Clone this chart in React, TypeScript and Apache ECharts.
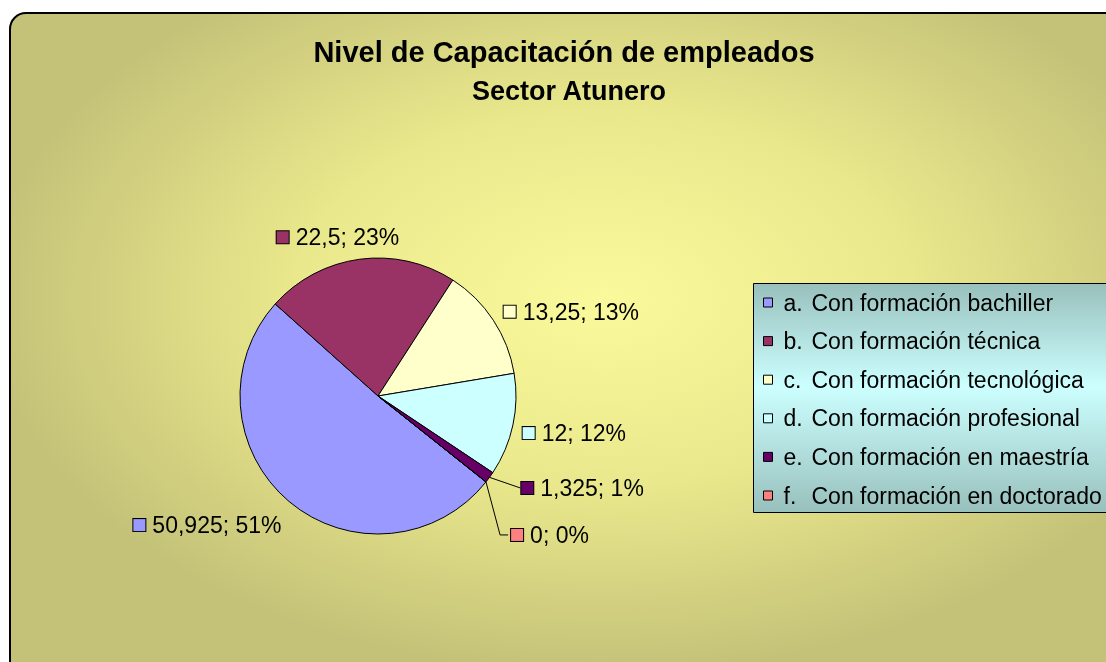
import React, { useEffect, useRef } from "react";
import * as echarts from "echarts";

const categories = [
  "a. Con formación bachiller",
  "b. Con formación técnica",
  "c. Con formación tecnológica",
  "d. Con formación profesional",
  "e. Con formación en maestría",
  "f. Con formación en doctorado",
];
const values = [50.925, 22.5, 13.25, 12, 1.325, 0];
const colors = ["#9999FF", "#993366", "#FFFFCC", "#CCFFFF", "#660066", "#FF8080"];
const titleText = "Nivel de Capacitación de empleados";
const subtitleText = "Sector Atunero";

const FONT = "'Liberation Sans', Arial, sans-serif";

export default function App() {
  const ref = useRef<HTMLDivElement>(null);
  useEffect(() => {
    if (!ref.current) return;
    const chart = echarts.init(ref.current, undefined, { renderer: "svg" });
    const total = values.reduce((a, b) => a + b, 0);
    const rich: any = {
      t: { fontSize: 23, fontFamily: FONT, color: "#000", padding: [0, 0, 0, 7] },
    };
    colors.forEach((c, i) => {
      rich["m" + i] = {
        width: 12,
        height: 12,
        backgroundColor: c,
        borderColor: "#000",
        borderWidth: 1,
      };
    });
    const data = categories.map((name, i) => {
      const item: any = { name, value: values[i], itemStyle: { color: colors[i] } };
      if (i === 4) {
        item.labelLine = { show: true, length: 18, length2: 0 };
        item.label = { lineHeight: 50, distanceToLabelLine: 1 };
      } else if (i === 5) {
        item.labelLine = { show: true, length: 18, length2: 8 };
        item.label = { lineHeight: 40, distanceToLabelLine: 3 };
      } else {
        item.labelLine = { show: false, length: 10, length2: 0 };
      }
      return item;
    });
    const option: any = {
      animation: false,
      graphic: [
        {
          type: "rect",
          shape: { x: 10, y: 13, width: 1120, height: 680, r: 16 },
          style: {
            fill: new echarts.graphic.RadialGradient(0.53, 0.42, 0.55, [
              { offset: 0, color: "#FAFA9C" },
              { offset: 0.5, color: "#EAE88C" },
              { offset: 1, color: "#C4C278" },
            ]),
            stroke: "#000",
            lineWidth: 2,
          },
          z: -10,
        },
        {
          type: "rect",
          shape: { x: 753.5, y: 283.5, width: 400, height: 229 },
          style: {
            fill: new echarts.graphic.LinearGradient(0, 0, 0, 1, [
              { offset: 0, color: "#98C0BC" },
              { offset: 0.45, color: "#CCFFFF" },
              { offset: 1, color: "#98C0BC" },
            ]),
            stroke: "#000",
            lineWidth: 1,
          },
          z: -5,
        },
      ],
      title: [
        {
          text: titleText,
          left: 559,
          top: 32,
          textAlign: "center",
          textStyle: { fontSize: 29, fontWeight: "bold", color: "#000", fontFamily: FONT },
        },
        {
          text: subtitleText,
          left: 564,
          top: 72,
          textAlign: "center",
          textStyle: { fontSize: 27, fontWeight: "bold", color: "#000", fontFamily: FONT },
        },
      ],
      legend: {
        orient: "vertical",
        left: 758,
        top: 286,
        icon: "rect",
        itemWidth: 9,
        itemHeight: 9,
        itemGap: 15.6,
        itemStyle: { borderColor: "#000", borderWidth: 1 },
        data: categories,
        formatter: (name: string) => {
          const idx = name.indexOf(" ");
          return `{p|${name.slice(0, idx)}}{t|${name.slice(idx + 1)}}`;
        },
        textStyle: {
          fontSize: 23,
          fontFamily: FONT,
          color: "#000",
          rich: {
            p: { fontSize: 23, fontFamily: FONT, color: "#000", width: 28, lineHeight: 30, padding: [0, 0, 0, 6] },
            t: { fontSize: 23, fontFamily: FONT, color: "#000", lineHeight: 30 },
          },
        },
      },
      series: [
        {
          type: "pie",
          center: [378, 396],
          radius: 138,
          startAngle: -38.5,
          clockwise: true,
          minAngle: 0,
          avoidLabelOverlap: true,
          itemStyle: { borderColor: "#000", borderWidth: 1 },
          emphasis: { disabled: true },
          label: {
            show: true,
            position: "outside",
            formatter: (p: any) => {
              const pct = Math.round((p.value / total) * 100);
              const v = String(p.value).replace(".", ",");
              return `{m${p.dataIndex}|}{t|${v}; ${pct}%}`;
            },
            rich,
            color: "#000",
          },
          labelLine: { lineStyle: { color: "#000", width: 1 }, smooth: false },
          labelLayout: (params: any) => {
            if (params.dataIndex === 0) return { dx: 4, dy: 16 };
            if (params.dataIndex === 1) return { dx: 46, dy: -12 };
            if (params.dataIndex === 2) return { dx: -3, dy: -3 };
            if (params.dataIndex === 3) return { dx: -2, dy: 6 };
            return {};
          },
          data,
        },
      ],
    };
    chart.setOption(option);
    return () => chart.dispose();
  }, []);
  return (
    <div
      ref={ref}
      style={{ position: "fixed", left: 0, top: 0, width: 1106, height: 662 }}
    />
  );
}
